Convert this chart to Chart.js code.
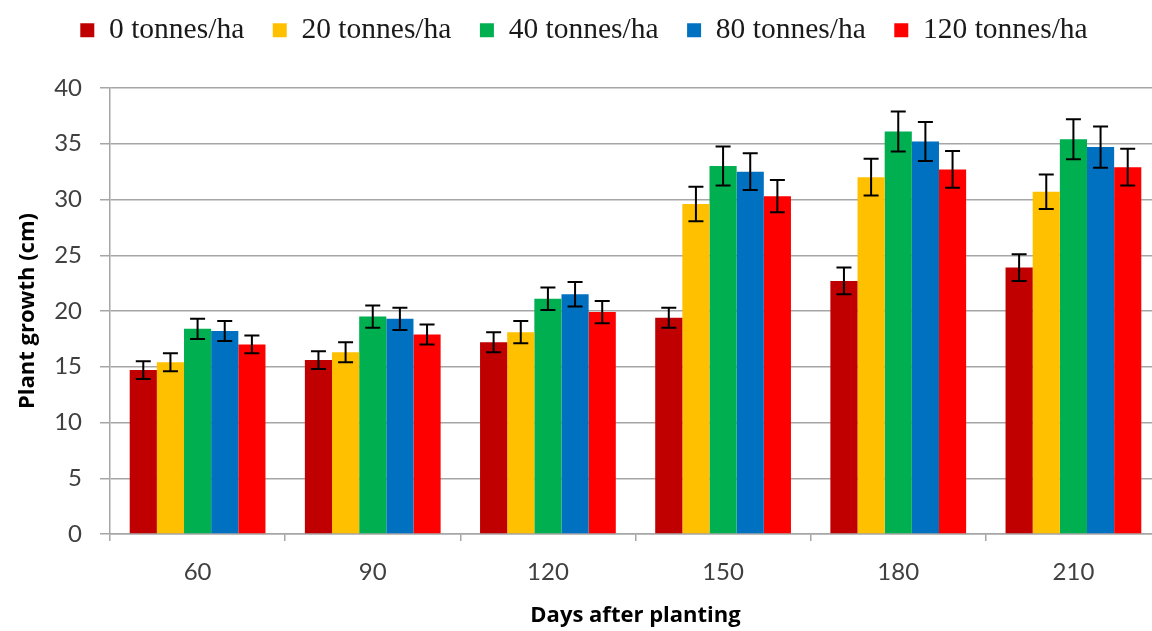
<!DOCTYPE html>
<html>
<head>
<meta charset="utf-8">
<title>Plant growth</title>
<script src="https://cdn.jsdelivr.net/npm/chart.js@4/dist/chart.umd.min.js"></script>
<style>
    html, body { margin: 0; padding: 0; background: #fff; overflow: hidden; }
    /* plot runs slightly past the right edge, as in the original figure */
    .chart-wrap { width: 1163px; height: 631px; }
</style>
</head>
<body>
<div class="chart-wrap"><canvas id="growthChart"></canvas></div>
<script>
// Days after planting
const days = ['60', '90', '120', '150', '180', '210'];
const seriesLabels = ['0 tonnes/ha', '20 tonnes/ha', '40 tonnes/ha', '80 tonnes/ha', '120 tonnes/ha'];
const seriesColors = ['#C00000', '#FFC000', '#00B050', '#0070C0', '#FF0000'];

// Mean plant growth (cm)
const growth0 = [14.7, 15.6, 17.2, 19.4, 22.7, 23.9];
const growth20 = [15.4, 16.3, 18.1, 29.6, 32.0, 30.7];
const growth40 = [18.4, 19.5, 21.1, 33.0, 36.1, 35.4];
const growth80 = [18.2, 19.3, 21.5, 32.5, 35.2, 34.7];
const growth120 = [17.0, 17.9, 19.9, 30.3, 32.7, 32.9];

// Error bar half-heights (cm)
const err0 = [0.8, 0.8, 0.9, 0.9, 1.2, 1.2];
const err20 = [0.8, 0.9, 1.0, 1.55, 1.65, 1.55];
const err40 = [0.9, 1.0, 1.0, 1.75, 1.8, 1.8];
const err80 = [0.9, 1.0, 1.1, 1.65, 1.75, 1.85];
const err120 = [0.8, 0.9, 1.0, 1.45, 1.65, 1.65];

const yTicks = [0, 5, 10, 15, 20, 25, 30, 35, 40];

const values = [growth0, growth20, growth40, growth80, growth120];
const errors = [err0, err20, err40, err80, err120];

// Draws the black error bars on top of each bar using the y scale
const errorBars = {
    id: 'errorBars',
    afterDatasetsDraw(chart) {
        const ctx = chart.ctx;
        const y = chart.scales.y;
        ctx.save();
        ctx.strokeStyle = '#000';
        ctx.lineWidth = 2;
        chart.data.datasets.forEach((ds, i) => {
            const meta = chart.getDatasetMeta(i);
            meta.data.forEach((bar, j) => {
                const v = ds.data[j];
                const e = ds.errors[j];
                const top = y.getPixelForValue(v + e);
                const bottom = y.getPixelForValue(v - e);
                const cap = 7.5;
                ctx.beginPath();
                ctx.moveTo(bar.x, top);
                ctx.lineTo(bar.x, bottom);
                ctx.moveTo(bar.x - cap, top);
                ctx.lineTo(bar.x + cap, top);
                ctx.moveTo(bar.x - cap, bottom);
                ctx.lineTo(bar.x + cap, bottom);
                ctx.stroke();
            });
        });
        ctx.restore();
    }
};

// Extra room under the legend
const legendSpacing = {
    id: 'legendSpacing',
    beforeInit(chart) {
        const origFit = chart.legend.fit;
        chart.legend.fit = function() {
            origFit.bind(chart.legend)();
            this.height += 33;
        };
    }
};

const ctx = document.getElementById('growthChart').getContext('2d');
new Chart(ctx, {
    type: 'bar',
    data: {
        labels: days,
        datasets: seriesLabels.map((label, i) => ({
            label: label,
            data: values[i],
            errors: errors[i],
            backgroundColor: seriesColors[i],
            borderWidth: 0,
            categoryPercentage: 0.775,
            barPercentage: 1.0
        }))
    },
    options: {
        responsive: true,
        maintainAspectRatio: false,
        animation: false,
        layout: {
            padding: { left: 7, right: 2, top: -13, bottom: 0 }
        },
        scales: {
            x: {
                grid: {
                    drawOnChartArea: false,
                    drawTicks: true,
                    tickLength: 7,
                    color: '#a6a6a6',
                    lineWidth: 1.5
                },
                border: { color: '#a6a6a6', width: 1.5 },
                ticks: {
                    color: '#404040',
                    font: { family: 'Lato', size: 24 },
                    padding: 17
                },
                title: {
                    display: true,
                    text: 'Days after planting',
                    color: '#000',
                    font: { family: 'Open Sans', size: 22, weight: 'bold' },
                    padding: { top: 0, bottom: 2 }
                },
                afterFit: function(scale) { scale.height = 97; }
            },
            y: {
                min: 0,
                max: 40,
                afterBuildTicks: function(scale) {
                    scale.ticks = yTicks.map(v => ({ value: v }));
                },
                grid: {
                    color: '#a6a6a6',
                    lineWidth: 1.5,
                    tickLength: 10
                },
                border: { color: '#a6a6a6', width: 1.5 },
                ticks: {
                    color: '#404040',
                    font: { family: 'Lato', size: 24 },
                    padding: 18
                },
                title: {
                    display: true,
                    text: 'Plant growth (cm)',
                    color: '#000',
                    font: { family: 'Open Sans', size: 22, weight: 'bold' },
                    padding: { top: 8, bottom: 0 }
                },
                afterFit: function(scale) { scale.width = 103; }
            }
        },
        plugins: {
            legend: {
                position: 'top',
                labels: {
                    boxWidth: 14,
                    boxHeight: 14,
                    padding: 28.5,
                    color: '#1a1a1a',
                    font: { family: 'Liberation Serif', size: 29.5 }
                }
            },
            tooltip: { enabled: false }
        }
    },
    plugins: [errorBars, legendSpacing]
});
</script>
</body>
</html>
